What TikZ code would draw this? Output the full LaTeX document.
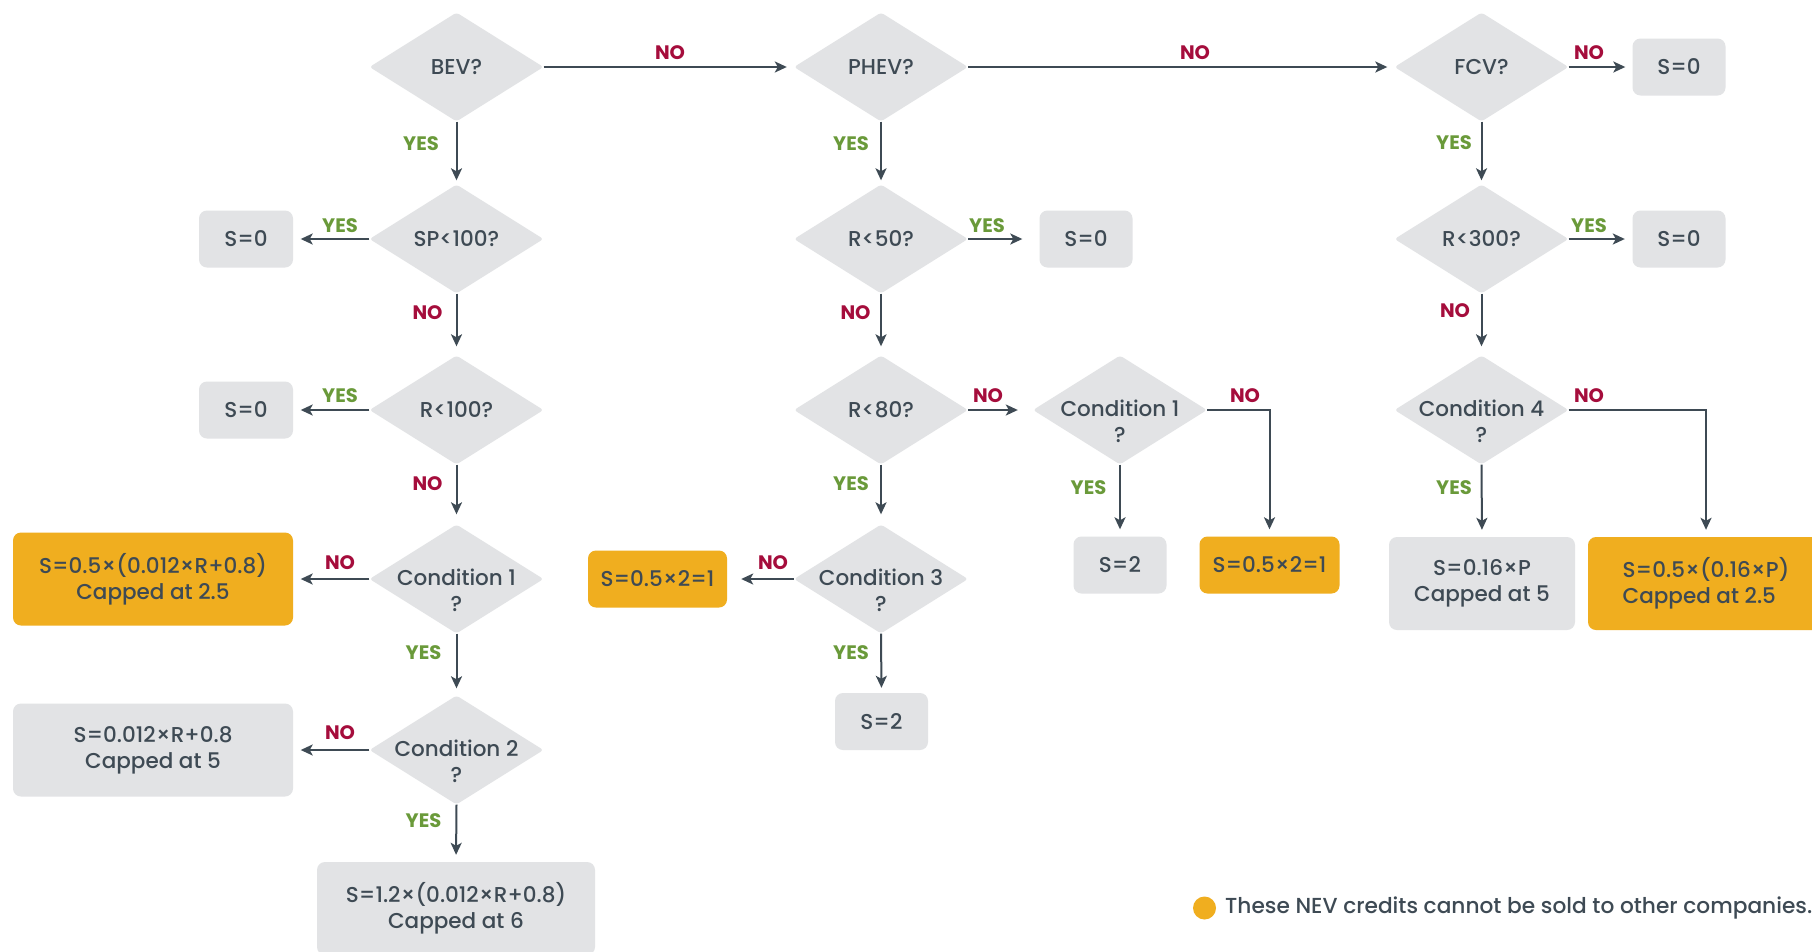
\documentclass[tikz,border=0pt]{standalone}
\usepackage{fontspec}
\setmainfont{Poppins Medium}[BoldFont={Poppins Bold}]
\usetikzlibrary{shapes.geometric,arrows.meta}
\definecolor{boxgray}{HTML}{E2E3E5}
\definecolor{nevorange}{HTML}{F0AE1F}
\definecolor{inkdark}{HTML}{3E4A54}
\definecolor{noRed}{HTML}{A50D3C}
\definecolor{yesGreen}{HTML}{6A9A3A}
\begin{document}
\begin{tikzpicture}[x=1pt,y=-1pt,
  dia/.style={diamond, fill=boxgray, minimum width=174pt, minimum height=109pt, inner sep=0pt, rounded corners=3pt},
  dtext/.style={text=inkdark, font=\fontsize{21.5}{26}\selectfont, align=center, inner sep=0pt},
  gbox/.style={fill=boxgray, rounded corners=8pt, text=inkdark, font=\fontsize{21.5}{26}\selectfont, align=center, inner sep=0pt},
  obox/.style={gbox, fill=nevorange},
  arr/.style={draw=inkdark, line width=2pt, -{Stealth[length=12pt,width=11pt,inset=3pt]}, shorten >=7pt},
  nolab/.style={text=noRed, font=\bfseries\fontsize{19.5}{22}\selectfont, inner sep=0pt},
  yeslab/.style={text=yesGreen, font=\bfseries\fontsize{19.5}{22}\selectfont, inner sep=0pt}
]
\clip (0,0) rectangle (1812,951);
\fill[white] (0,0) rectangle (1812,951);

% diamonds
\node[dia] (bev) at (456.5,67) {};
\node[dia] (sp) at (456.5,239) {};
\node[dia] (rb) at (456.5,410) {};
\node[dia] (c1) at (456.5,579) {};
\node[dia] (c2) at (456.5,750) {};
\node[dia] (phev) at (881,67) {};
\node[dia] (r50) at (881,239) {};
\node[dia] (r80) at (881,410) {};
\node[dia] (c3) at (881,579) {};
\node[dia] (c1b) at (1120,410) {};
\node[dia] (fcv) at (1481.5,67) {};
\node[dia] (r300) at (1481.5,239) {};
\node[dia] (c4) at (1481.5,410) {};

\node[dtext] (bevt) at (bev) {BEV?};
\node[dtext] (spt) at (sp) {SP<100?};
\node[dtext] (rbt) at (rb) {R<100?};
\node[dtext] (c1t) at (456.5,590) {Condition 1\\?};
\node[dtext] (c2t) at (456.5,761) {Condition 2\\?};
\node[dtext] (phevt) at (phev) {PHEV?};
\node[dtext] (r50t) at (r50) {R<50?};
\node[dtext] (r80t) at (r80) {R<80?};
\node[dtext] (c3t) at (881,590) {Condition 3\\?};
\node[dtext] (c1bt) at (1120,421) {Condition 1\\?};
\node[dtext] (fcvt) at (fcv) {FCV?};
\node[dtext] (r300t) at (r300) {R<300?};
\node[dtext] (c4t) at (1481.5,421) {Condition 4\\?};

% boxes
\node[gbox, minimum width=94pt, minimum height=57pt] (s0a) at (246,239) {S=0};
\node[gbox, minimum width=94pt, minimum height=57pt] (s0b) at (246,410) {S=0};
\node[obox, minimum width=280pt, minimum height=93pt] (o1) at (153,579) {S=0.5×(0.012×R+0.8)\\Capped at 2.5};
\node[gbox, minimum width=280pt, minimum height=93pt] (g1) at (153,750) {S=0.012×R+0.8\\Capped at 5};
\node[gbox, minimum width=278pt, minimum height=93pt] (g2) at (456,908.5) {S=1.2×(0.012×R+0.8)\\Capped at 6};
\node[gbox, minimum width=93pt, minimum height=57pt] (s0c) at (1086,239) {S=0};
\node[obox, minimum width=139pt, minimum height=57pt] (o2) at (657.5,579) {S=0.5×2=1};
\node[gbox, minimum width=93pt, minimum height=57pt] (s2a) at (881.5,721.5) {S=2};
\node[gbox, minimum width=93pt, minimum height=57pt] (s2b) at (1120,565) {S=2};
\node[obox, minimum width=140pt, minimum height=57pt] (o3) at (1269.5,565) {S=0.5×2=1};
\node[gbox, minimum width=93pt, minimum height=57pt] (s0d) at (1679,67) {S=0};
\node[gbox, minimum width=93pt, minimum height=57pt] (s0e) at (1679,239) {S=0};
\node[gbox, minimum width=186pt, minimum height=93pt] (g3) at (1482,583.5) {S=0.16×P\\Capped at 5};
\node[obox, minimum width=236pt, minimum height=93pt, align=left] (o4) at (1706,583.5) {S=0.5×(0.16×P)\\Capped at 2.5};

% connectors
\draw[arr] (bev.east) -- (phev.west);
\draw[arr] (phev.east) -- (fcv.west);
\draw[arr] (fcv.east) -- (s0d.west);
\draw[arr, shorten >=4pt] (bev.south) -- (sp.north);
\draw[arr, shorten >=7.5pt] (sp.west) -- (s0a.east);
\draw[arr, shorten >=9pt] (sp.south) -- (rb.north);
\draw[arr, shorten >=7.5pt] (rb.west) -- (s0b.east);
\draw[arr, shorten >=10pt] (rb.south) -- (c1.north);
\draw[arr, shorten >=7.5pt] (c1.west) -- (o1.east);
\draw[arr] (c1.south) -- (c2.north);
\draw[arr, shorten >=7.5pt] (c2.west) -- (g1.east);
\draw[arr] (c2.south) -- (g2.north);
\draw[arr, shorten >=4pt] (phev.south) -- (r50.north);
\draw[arr, shorten >=17pt] (r50.east) -- (s0c.west);
\draw[arr, shorten >=9pt] (r50.south) -- (r80.north);
\draw[arr, shorten >=15pt] (r80.east) -- (c1b.west);
\draw[arr, shorten >=10pt] (r80.south) -- (c3.north);
\draw[arr, shorten >=14pt] (c3.west) -- (o2.east);
\draw[arr, shorten >=5pt] (c3.south) -- (s2a.north);
\draw[arr] (c1b.south) -- (s2b.north);
\draw[arr] (c1b.east) -| (o3.north);
\draw[arr, shorten >=4pt] (fcv.south) -- (r300.north);
\draw[arr, shorten >=7.5pt] (r300.east) -- (s0e.west);
\draw[arr, shorten >=9pt] (r300.south) -- (c4.north);
\draw[arr] (c4.south) -- (g3.north);
\draw[arr] (c4.east) -| (o4.north);

% labels
\node[nolab] (l1) at (670,53) {NO};
\node[nolab] (l2) at (1195,53) {NO};
\node[nolab] (l3) at (1589,53) {NO};
\node[yeslab] (l4) at (421,144) {YES};
\node[yeslab] (l5) at (340,226) {YES};
\node[nolab] (l6) at (427.5,313) {NO};
\node[yeslab] (l7) at (340,396) {YES};
\node[nolab] (l8) at (427.5,484) {NO};
\node[nolab] (l9) at (340,563) {NO};
\node[yeslab] (l10) at (423.5,653) {YES};
\node[nolab] (l11) at (340,733) {NO};
\node[yeslab] (l12) at (423.5,821) {YES};
\node[yeslab] (l13) at (851,144) {YES};
\node[yeslab] (l14) at (987,226) {YES};
\node[nolab] (l15) at (855.5,313) {NO};
\node[nolab] (l16) at (988,396) {NO};
\node[yeslab] (l17) at (851,484) {YES};
\node[nolab] (l18) at (773,563) {NO};
\node[yeslab] (l19) at (851,653) {YES};
\node[yeslab] (l20) at (1088.5,488) {YES};
\node[nolab] (l21) at (1245,396) {NO};
\node[yeslab] (l22) at (1454,143) {YES};
\node[yeslab] (l23) at (1589,226) {YES};
\node[nolab] (l24) at (1455,311) {NO};
\node[nolab] (l25) at (1589,396) {NO};
\node[yeslab] (l26) at (1454,488) {YES};

% legend
\node[circle, fill=nevorange, minimum size=23pt, inner sep=0pt] (dot) at (1204.5,908) {};
\node[anchor=west, inner sep=0pt, text=inkdark, font=\fontsize{21.7}{26}\selectfont] (legend) at (1225,908) {These NEV credits cannot be sold to other companies.};
\end{tikzpicture}
\end{document}
